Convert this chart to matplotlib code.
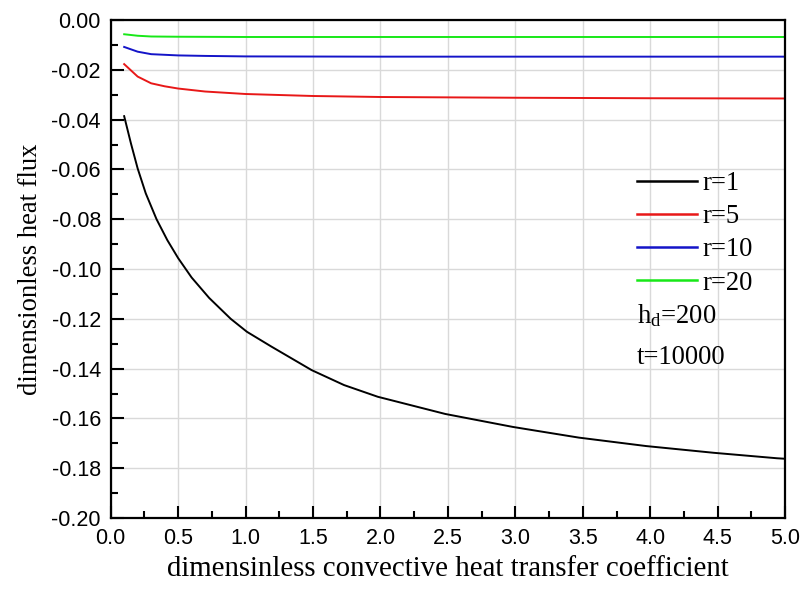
import matplotlib
matplotlib.use("Agg")
import matplotlib.pyplot as plt
from matplotlib.ticker import MultipleLocator
import numpy as np

# ---- data ----
x_r1 = [0.10, 0.15, 0.20, 0.26, 0.34, 0.42, 0.50, 0.60, 0.73, 0.89, 1.01,
        1.19, 1.49, 1.73, 1.98, 2.48, 2.98, 3.15, 3.47, 3.97, 4.47, 4.94, 5.0]
y_r1 = [-0.0386, -0.0495, -0.0596, -0.0696, -0.0800, -0.0884, -0.0956,
        -0.1034, -0.1116, -0.1200, -0.1252, -0.1311, -0.1406,
        -0.1466, -0.1513, -0.1582, -0.1634, -0.1649, -0.1677, -0.1711,
        -0.1738, -0.1760, -0.1762]

x_r5 = [0.1, 0.2, 0.3, 0.4, 0.5, 0.7, 1.0, 1.5, 2.0, 3.0, 4.0, 5.0]
y_r5 = [-0.0177, -0.0227, -0.0254, -0.0266, -0.0275, -0.0287, -0.0297,
        -0.0305, -0.0309, -0.0312, -0.0314, -0.0315]

x_r10 = [0.1, 0.2, 0.3, 0.5, 0.7, 1.0, 2.0, 3.0, 5.0]
y_r10 = [-0.0108, -0.0127, -0.0137, -0.0142, -0.0144, -0.0146, -0.0147,
         -0.0147, -0.0147]

x_r20 = [0.1, 0.2, 0.3, 0.5, 1.0, 2.0, 5.0]
y_r20 = [-0.0057, -0.0063, -0.0066, -0.0067, -0.0068, -0.0068, -0.0068]

labels = ["r=1", "r=5", "r=10", "r=20"]
colors = ["#000000", "#e81818", "#1414c8", "#18e818"]

xticks = np.arange(0, 5.01, 0.5)
yticks = np.arange(-0.20, 0.001, 0.02)

plt.rcParams["mathtext.fontset"] = "custom"
plt.rcParams["mathtext.rm"] = "Liberation Serif"
plt.rcParams["mathtext.it"] = "Liberation Serif:italic"

fig = plt.figure(figsize=(8.02, 5.90), dpi=100)
ax = fig.add_axes([0.138, 0.122, 0.841, 0.844])

series = [(x_r1, y_r1), (x_r5, y_r5), (x_r10, y_r10), (x_r20, y_r20)]
for (xs, ys), lab, c in zip(series, labels, colors):
    ax.plot(xs, ys, color=c, lw=1.4, label=lab)

ax.set_xlim(0, 5.0)
ax.set_ylim(-0.20, 0.0)
ax.set_xticks(xticks)
ax.set_yticks(yticks)
ax.set_xticklabels([f"{v:.1f}" for v in xticks])
ax.set_yticklabels([f"{v:.2f}" if abs(v) > 1e-9 else "0.00" for v in yticks])
ax.xaxis.set_minor_locator(MultipleLocator(0.25))
ax.yaxis.set_minor_locator(MultipleLocator(0.01))
ax.tick_params(which="major", direction="in", length=9, width=1.5,
               labelsize=15.5, pad=7)
ax.tick_params(which="minor", direction="in", length=5, width=1.5)
ax.tick_params(top=False, right=False, which="both")
for lab in ax.get_xticklabels() + ax.get_yticklabels():
    lab.set_fontfamily("Liberation Sans")
for s in ax.spines.values():
    s.set_linewidth(1.6)
ax.grid(True, which="major", color="#d9d9d9", lw=1.0)
ax.set_axisbelow(True)

ax.set_xlabel("dimensinless convective heat transfer coefficient",
              fontfamily="Liberation Serif", fontsize=20.8, labelpad=5)
ax.set_ylabel("dimensionless heat flux", fontfamily="Liberation Serif",
              fontsize=19.2, labelpad=6)

leg = ax.legend(loc="upper left", bbox_to_anchor=(0.780, 0.697), frameon=False,
                prop={"family": "Liberation Serif", "size": 19.2},
                handlelength=2.25, handletextpad=0.22, labelspacing=0.31,
                borderpad=0, borderaxespad=0)
for ln in leg.get_lines():
    ln.set_linewidth(1.8)

ax.text(0.780, 0.391, r"h$_\mathrm{d}$=200", transform=ax.transAxes,
        fontfamily="Liberation Serif", fontsize=19.2, va="baseline", ha="left")
ax.text(0.780, 0.309, "t=10000", transform=ax.transAxes,
        fontfamily="Liberation Serif", fontsize=19.2, va="baseline", ha="left")

fig.savefig("out.png", dpi=100)
